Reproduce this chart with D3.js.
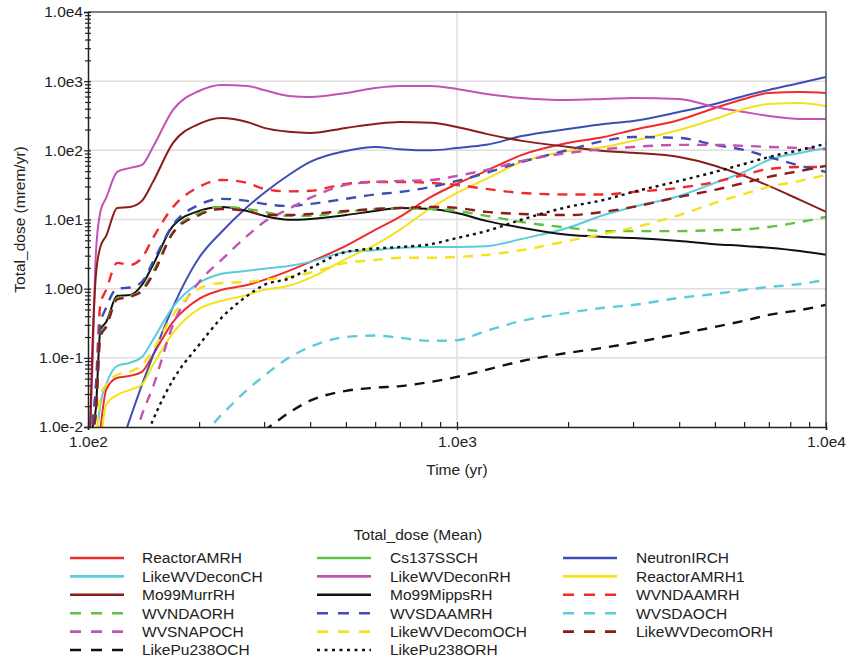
<!DOCTYPE html>
<html>
<head>
<meta charset="utf-8">
<script src="https://cdn.jsdelivr.net/npm/d3@7"></script>
<style>
  body { margin: 0; background: #fff; }
  svg text { font-family: "Liberation Sans", Arial, sans-serif; fill: #222; }
</style>
</head>
<body>
<svg id="chart" width="847" height="657"></svg>
<script>
// Time points (yr) shared by every series
const years = [100, 101, 103, 105, 108, 112, 120, 130, 140, 150, 170, 200, 230, 270, 300, 350, 400, 500, 600, 700, 850, 1000, 1200, 1500, 2000, 2500, 3000, 4000, 5000, 6000, 7000, 8500, 10000];

// Mean total dose (mrem/yr) per source
const reactorAMRH = [0.001, 0.001, 0.001, 0.002, 0.009, 0.0345, 0.0514, 0.055, 0.0628, 0.11, 0.331, 0.713, 0.96, 1.13, 1.34, 1.81, 2.44, 4.15, 7.08, 10.9, 21.2, 32.7, 50.4, 86, 128, 156, 197, 275, 410, 553, 675, 700, 675];
const cs137SSCH = [0.0001, 0.0002, 0.0003, 0.0004, 0.0005, 0.0006, 0.0008, 0.001, 0.0012, 0.0014, 0.0018, 0.0022, 0.0025, 0.0028, 0.003, 0.0032, 0.0033, 0.0034, 0.0034, 0.0033, 0.0032, 0.003, 0.0028, 0.0026, 0.0023, 0.0021, 0.0019, 0.0016, 0.0014, 0.0012, 0.0011, 0.001, 0.0009];
const neutronIRCH = [0.0005, 0.0005, 0.0006, 0.0007, 0.001, 0.0015, 0.0038, 0.0132, 0.0407, 0.107, 0.546, 2.8, 6.6, 15.2, 24.2, 44, 68, 98, 112, 104, 100, 108, 120, 161, 204, 241, 266, 359, 469, 611, 747, 942, 1150];
const likeWVDeconCH = [0.0005, 0.001, 0.002, 0.005, 0.021, 0.041, 0.0766, 0.085, 0.103, 0.182, 0.546, 1.21, 1.64, 1.81, 1.94, 2.13, 2.44, 3.4, 3.6, 3.9, 4.0, 4.0, 4.1, 5.25, 7.6, 11.6, 15.2, 21.9, 33.8, 48.7, 72.6, 91.6, 108];
const likeWVDeconRH = [0.001, 0.005, 0.1, 3.1, 12.9, 20.5, 48.7, 55.7, 61.5, 112, 384, 721, 881, 853, 747, 611, 590, 675, 798, 853, 853, 772, 653, 572, 535, 553, 572, 553, 424, 359, 314, 284, 284];
const reactorAMRH1 = [0.001, 0.001, 0.001, 0.001, 0.005, 0.021, 0.029, 0.0345, 0.041, 0.079, 0.23, 0.51, 0.667, 0.81, 0.96, 1.1, 1.43, 2.7, 4.3, 7.08, 14.7, 24.2, 38.6, 68, 98, 112, 137, 197, 284, 396, 469, 485, 438];
const mo99MurrRH = [0.001, 0.005, 0.2, 1.5, 4.0, 5.8, 14.7, 15.2, 18.6, 35, 128, 241, 294, 257, 211, 185, 178, 211, 241, 257, 250, 218, 173, 137, 112, 98, 92, 80, 60, 42.7, 30.6, 19.2, 12.9];
const mo99MippsRH = [0.001, 0.002, 0.01, 0.018, 0.254, 0.33, 0.787, 0.81, 1.13, 2.2, 8.1, 13.3, 15.2, 13.3, 11.3, 9.9, 10.2, 11.6, 13.3, 14.7, 14.2, 12.4, 9.55, 7.6, 6.0, 5.6, 5.4, 4.9, 4.4, 4.15, 3.9, 3.5, 3.08];
const wvndaAMRH = [0.001, 0.002, 0.008, 0.038, 0.58, 0.96, 2.36, 2.2, 2.79, 5.4, 15.2, 29.6, 37.3, 33.8, 27.7, 25.5, 26, 32.7, 34.9, 34.9, 33.8, 31.6, 27.7, 24.2, 23, 23, 25, 28.7, 34.9, 44.2, 53.8, 57.3, 57.3];
const wvndaORH = [0.001, 0.002, 0.008, 0.015, 0.22, 0.3, 0.73, 0.78, 0.96, 1.75, 6.6, 12.4, 15.2, 14.2, 12.9, 11.3, 11.3, 12.9, 14.2, 14.7, 14.2, 13.3, 11.3, 9.2, 7.6, 6.8, 6.8, 6.8, 7.0, 7.2, 7.8, 9.2, 10.9];
const wvsdaAMRH = [0.001, 0.003, 0.012, 0.035, 0.3, 0.53, 1.0, 1.04, 1.25, 2.44, 8.4, 16.3, 19.9, 18.6, 16.8, 15.7, 16.8, 19.9, 23, 25, 29.6, 36.1, 47.1, 68, 101, 137, 156, 151, 120, 101, 80, 60, 48.7];
const wvsdaOCH = [0.0005, 0.0005, 0.0006, 0.0007, 0.0008, 0.001, 0.0015, 0.002, 0.003, 0.004, 0.0055, 0.007, 0.015, 0.0345, 0.055, 0.1, 0.144, 0.2, 0.21, 0.195, 0.176, 0.18, 0.245, 0.343, 0.447, 0.53, 0.58, 0.736, 0.84, 0.96, 1.06, 1.17, 1.34];
const wvsnapOCH = [0.0003, 0.0003, 0.0004, 0.0005, 0.0006, 0.0008, 0.0015, 0.004, 0.015, 0.038, 0.3, 1.25, 2.6, 5.8, 9.2, 14.2, 20.5, 31.6, 34.9, 36.1, 37.3, 42.7, 52.1, 70.3, 91.6, 104, 112, 120, 120, 116, 112, 108, 104];
const likeWVDecomOCH = [0.0005, 0.001, 0.002, 0.005, 0.0275, 0.041, 0.057, 0.063, 0.079, 0.13, 0.418, 1.0, 1.21, 1.25, 1.34, 1.48, 1.7, 2.36, 2.6, 2.8, 2.8, 2.87, 3.08, 3.6, 4.9, 6.2, 7.6, 11.6, 17.4, 23.4, 29.6, 36.1, 44.2];
const likeWVDecomORH = [0.001, 0.002, 0.008, 0.015, 0.2, 0.28, 0.7, 0.76, 0.93, 1.6, 6.4, 11.6, 14.2, 13.3, 11.6, 11.6, 12, 13.3, 14.2, 14.7, 15.2, 14.7, 12.9, 12, 11.6, 12.9, 15.2, 21.2, 26.8, 33.8, 41.3, 50.4, 59.6];
const likePu238OCH = [0.0002, 0.0002, 0.0002, 0.0003, 0.0003, 0.0004, 0.0005, 0.0007, 0.001, 0.0013, 0.002, 0.003, 0.0045, 0.007, 0.009, 0.016, 0.024, 0.0333, 0.037, 0.039, 0.045, 0.053, 0.067, 0.09, 0.118, 0.14, 0.165, 0.222, 0.28, 0.343, 0.418, 0.49, 0.583];
const likePu238ORH = [0.0002, 0.0002, 0.0003, 0.0003, 0.0004, 0.0005, 0.001, 0.002, 0.005, 0.0126, 0.048, 0.154, 0.378, 0.787, 1.13, 1.4, 1.98, 3.4, 3.8, 4.0, 4.4, 5.4, 6.8, 10, 15.2, 19.2, 25, 36.1, 48.7, 63.5, 80, 101, 124];

// Axis ticks
const xTickValues = [100, 1000, 10000];
const xTickLabels = ["1.0e2", "1.0e3", "1.0e4"];
const yTickValues = [0.01, 0.1, 1, 10, 100, 1000, 10000];
const yTickLabels = ["1.0e-2", "1.0e-1", "1.0e0", "1.0e1", "1.0e2", "1.0e3", "1.0e4"];

// Series drawing styles, in legend order
const palette = {
  red: "#f22a2a", green: "#63c040", blue: "#3d4db3", cyan: "#5ccbdb",
  magenta: "#c252b4", yellow: "#f4e21c", maroon: "#8a1c1c", black: "#111111"
};
const SOLID = null, DASH = "10,8", DOT = "3,4";
const series = [
  { name: "ReactorAMRH", values: reactorAMRH, color: palette.red, dash: SOLID },
  { name: "Cs137SSCH", values: cs137SSCH, color: palette.green, dash: SOLID },
  { name: "NeutronIRCH", values: neutronIRCH, color: palette.blue, dash: SOLID },
  { name: "LikeWVDeconCH", values: likeWVDeconCH, color: palette.cyan, dash: SOLID },
  { name: "LikeWVDeconRH", values: likeWVDeconRH, color: palette.magenta, dash: SOLID },
  { name: "ReactorAMRH1", values: reactorAMRH1, color: palette.yellow, dash: SOLID },
  { name: "Mo99MurrRH", values: mo99MurrRH, color: palette.maroon, dash: SOLID },
  { name: "Mo99MippsRH", values: mo99MippsRH, color: palette.black, dash: SOLID },
  { name: "WVNDAAMRH", values: wvndaAMRH, color: palette.red, dash: DASH },
  { name: "WVNDAORH", values: wvndaORH, color: palette.green, dash: DASH },
  { name: "WVSDAAMRH", values: wvsdaAMRH, color: palette.blue, dash: DASH },
  { name: "WVSDAOCH", values: wvsdaOCH, color: palette.cyan, dash: DASH },
  { name: "WVSNAPOCH", values: wvsnapOCH, color: palette.magenta, dash: DASH },
  { name: "LikeWVDecomOCH", values: likeWVDecomOCH, color: palette.yellow, dash: DASH },
  { name: "LikeWVDecomORH", values: likeWVDecomORH, color: palette.maroon, dash: DASH },
  { name: "LikePu238OCH", values: likePu238OCH, color: palette.black, dash: DASH },
  { name: "LikePu238ORH", values: likePu238ORH, color: palette.black, dash: DOT }
];

const svg = d3.select("#chart");
const plot = { left: 88, right: 826, top: 12, bottom: 427 };
const fontSize = "15.5px";

const x = d3.scaleLog().domain([100, 10000]).range([plot.left, plot.right]);
const y = d3.scaleLog().domain([0.01, 10000]).range([plot.bottom, plot.top]);

// Minor tick positions for each decade
const xMinor = [];
for (let d = 100; d < 10000; d *= 10) for (let k = 2; k <= 9; k++) xMinor.push(d * k);
const yMinor = [];
for (let d = 0.01; d < 10000; d *= 10) for (let k = 2; k <= 9; k++) yMinor.push(+(d * k).toPrecision(3));

// Grid
const grid = svg.append("g").attr("stroke", "#dedede").attr("stroke-width", 1.5);
grid.selectAll("line.h").data(yTickValues.slice(1, -1)).join("line")
  .attr("x1", plot.left).attr("x2", plot.right)
  .attr("y1", d => y(d)).attr("y2", d => y(d));
grid.append("line")
  .attr("x1", x(1000)).attr("x2", x(1000))
  .attr("y1", plot.top).attr("y2", plot.bottom);

// Curves
svg.append("clipPath").attr("id", "plotClip").append("rect")
  .attr("x", plot.left).attr("y", plot.top)
  .attr("width", plot.right - plot.left).attr("height", plot.bottom - plot.top);

const line = d3.line()
  .x((d, i) => x(years[i]))
  .y(d => y(d))
  .curve(d3.curveMonotoneX);

svg.append("g").attr("clip-path", "url(#plotClip)")
  .selectAll("path").data(series).join("path")
  .attr("fill", "none")
  .attr("stroke", s => s.color)
  .attr("stroke-width", s => s.dash ? 2.4 : 2)
  .attr("stroke-dasharray", s => s.dash)
  .attr("d", s => line(s.values));

// Frame: top and right edges
svg.append("path")
  .attr("d", `M${plot.left},${plot.top}H${plot.right}V${plot.bottom}`)
  .attr("fill", "none").attr("stroke", "#555").attr("stroke-width", 1.5);

function styleAxis(g) {
  g.selectAll(".domain").attr("stroke", "#222").attr("stroke-width", 1.5);
  g.selectAll(".tick line").attr("stroke", "#222").attr("stroke-width", 1.2);
  g.selectAll(".tick text").attr("font-size", fontSize).style("fill", "#222");
}

// Y axis: labelled decades, minor ticks, inside ticks
svg.append("g").attr("transform", `translate(${plot.left},0)`)
  .call(d3.axisLeft(y).tickValues(yTickValues).tickFormat((d, i) => yTickLabels[i]).tickSizeOuter(0).tickSize(4).tickPadding(1))
  .call(styleAxis);
svg.append("g").attr("transform", `translate(${plot.left},0)`)
  .call(d3.axisLeft(y).tickValues(yMinor).tickFormat("").tickSize(3))
  .call(g => g.select(".domain").remove()).call(styleAxis);
svg.append("g").attr("transform", `translate(${plot.left},0)`)
  .call(d3.axisRight(y).tickValues(yMinor.concat(yTickValues)).tickFormat("").tickSize(3))
  .call(g => g.select(".domain").remove()).call(styleAxis);

// X axis
svg.append("g").attr("transform", `translate(0,${plot.bottom})`)
  .call(d3.axisBottom(x).tickValues(xTickValues).tickFormat((d, i) => xTickLabels[i]).tickSizeOuter(0).tickSize(3).tickPadding(6))
  .call(styleAxis);
svg.append("g").attr("transform", `translate(0,${plot.bottom})`)
  .call(d3.axisTop(x).tickValues(xMinor.concat(xTickValues)).tickFormat("").tickSize(5))
  .call(g => g.select(".domain").remove()).call(styleAxis);

// Axis titles
svg.append("text")
  .attr("x", (plot.left + plot.right) / 2).attr("y", 475)
  .attr("text-anchor", "middle").attr("font-size", fontSize)
  .text("Time (yr)");
svg.append("text")
  .attr("transform", `translate(25,${(plot.top + plot.bottom) / 2}) rotate(-90)`)
  .attr("text-anchor", "middle").attr("font-size", fontSize)
  .text("Total_dose (mrem/yr)");

// Legend
const legend = svg.append("g");
legend.append("text")
  .attr("x", 418).attr("y", 540)
  .attr("text-anchor", "middle").attr("font-size", fontSize)
  .text("Total_dose (Mean)");

const colLine = [70, 317, 563], colText = [142, 390, 636];
const rowY0 = 558, rowStep = 18.4, sampleLen = 54;
const items = legend.selectAll("g.item").data(series).join("g")
  .attr("transform", (s, i) => `translate(0,${rowY0 + Math.floor(i / 3) * rowStep})`);
items.append("line")
  .attr("x1", (s, i) => colLine[i % 3]).attr("x2", (s, i) => colLine[i % 3] + sampleLen)
  .attr("y1", 0).attr("y2", 0)
  .attr("stroke", s => s.color)
  .attr("stroke-width", 2.6)
  .attr("stroke-dasharray", s => s.dash === DASH ? "11,10" : s.dash === DOT ? "3,4.5" : null);
items.append("text")
  .attr("x", (s, i) => colText[i % 3]).attr("y", 0).attr("dy", "0.35em")
  .attr("font-size", fontSize)
  .text(s => s.name);
</script>
</body>
</html>
